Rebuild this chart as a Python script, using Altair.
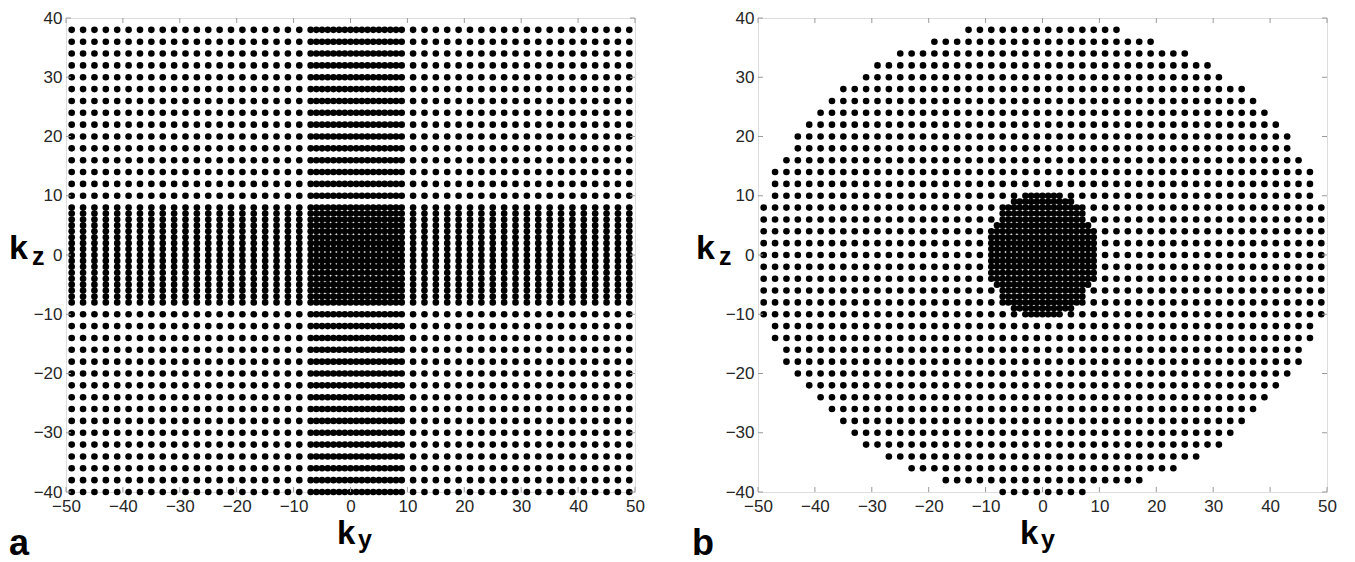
import altair as alt
import pandas as pd

# ---- data ----
# regular outer sampling grid (step 2)
KY_OUTER = list(range(-49, 50, 2))
KZ_OUTER = list(range(-40, 39, 2))
# panel a: fully sampled central bands (step 1)
KY_DENSE_A = list(range(-7, 9))
KZ_DENSE_A = list(range(-7, 9))
# panel b: elliptical outer region and fully sampled central disc
ELLIPSE_A = 50.5      # semi-axis in ky
ELLIPSE_B = 40.0      # semi-axis in kz
ELLIPSE_CZ = -0.5     # centre in kz
DISC_A = 9.6          # dense centre semi-axis in ky
DISC_B = 10.6         # dense centre semi-axis in kz
DISC_RANGE = list(range(-10, 11))

XT = [-50, -40, -30, -20, -10, 0, 10, 20, 30, 40, 50]
YT = [-40, -30, -20, -10, 0, 10, 20, 30, 40]

W, H = 569, 474

# ---- build point tables ----
ky_a = sorted(set(KY_OUTER) | set(KY_DENSE_A))
kz_a = sorted(set(KZ_OUTER) | set(KZ_DENSE_A))
df_a = pd.DataFrame([(y, z) for y in ky_a for z in kz_a], columns=["ky", "kz"])

pts_b = set()
for y in KY_OUTER:
    for z in KZ_OUTER:
        if (y / ELLIPSE_A) ** 2 + ((z - ELLIPSE_CZ) / ELLIPSE_B) ** 2 <= 1:
            pts_b.add((y, z))
for y in DISC_RANGE:
    for z in DISC_RANGE:
        if (y / DISC_A) ** 2 + (z / DISC_B) ** 2 <= 1:
            pts_b.add((y, z))
df_b = pd.DataFrame(sorted(pts_b), columns=["ky", "kz"])

FONT = "Liberation Sans"
xs = alt.Scale(domain=[-50, 50], nice=False, zero=False)
ys = alt.Scale(domain=[-40, 40], nice=False, zero=False)
TICK_COLOR = "#9a9a9a"

AX_X = alt.Axis(values=XT, ticks=False, domain=False, grid=False, title=None,
                labelFlush=False, labelOverlap=False, labelPadding=6,
                labelFontSize=17, labelFont=FONT, labelColor="#262626")
AX_Y = alt.Axis(values=YT, ticks=False, domain=False, grid=False, title=None,
                labelFlush=False, labelOverlap=False, labelPadding=4,
                labelFontSize=17, labelFont=FONT, labelColor="#262626")


def txt(s, x, y, size):
    return alt.Chart(pd.DataFrame({"t": [s]})).mark_text(
        font=FONT, fontSize=size, fontWeight="bold", color="black",
        align="left", baseline="alphabetic"
    ).encode(x=alt.value(x), y=alt.value(y), text="t:N")


def panel(df, letter, off):
    pts = alt.Chart(df).mark_circle(size=44, color="black", opacity=1).encode(
        x=alt.X("ky:Q", scale=xs, axis=AX_X),
        y=alt.Y("kz:Q", scale=ys, axis=AX_Y),
    )
    xt = pd.DataFrame({"ky": XT})
    yt = pd.DataFrame({"kz": YT})
    tb = alt.Chart(xt).mark_rule(color=TICK_COLOR).encode(
        x=alt.X("ky:Q", scale=xs, axis=AX_X), y=alt.value(0), y2=alt.value(5))
    tt = alt.Chart(xt).mark_rule(color=TICK_COLOR).encode(
        x=alt.X("ky:Q", scale=xs, axis=AX_X), y=alt.value(H - 5), y2=alt.value(H))
    tl = alt.Chart(yt).mark_rule(color=TICK_COLOR).encode(
        y=alt.Y("kz:Q", scale=ys, axis=AX_Y), x=alt.value(0), x2=alt.value(5))
    tr = alt.Chart(yt).mark_rule(color=TICK_COLOR).encode(
        y=alt.Y("kz:Q", scale=ys, axis=AX_Y), x=alt.value(W - 5), x2=alt.value(W))
    texts = [
        txt("k", off["kz"], 241, 34),
        txt("z", off["kz"] + 23, 247, 25),
        txt("k", off["ky"], 526, 33),
        txt("y", off["ky"] + 21, 530, 25),
        txt(letter, off["lab"], 537, 36),
    ]
    return alt.layer(pts, tb, tt, tl, tr, *texts).properties(width=W, height=H)


pa = panel(df_a, "a", {"kz": -57, "ky": 271, "lab": -57})
pb = panel(df_b, "b", {"kz": -62, "ky": 262, "lab": -66})

chart = alt.hconcat(pa, pb, spacing=46).properties(padding=0).configure_view(
    stroke="#9a9a9a", strokeWidth=1
).configure(background="white")

chart.save("out.html", embed_options={"renderer": "svg", "actions": False})
